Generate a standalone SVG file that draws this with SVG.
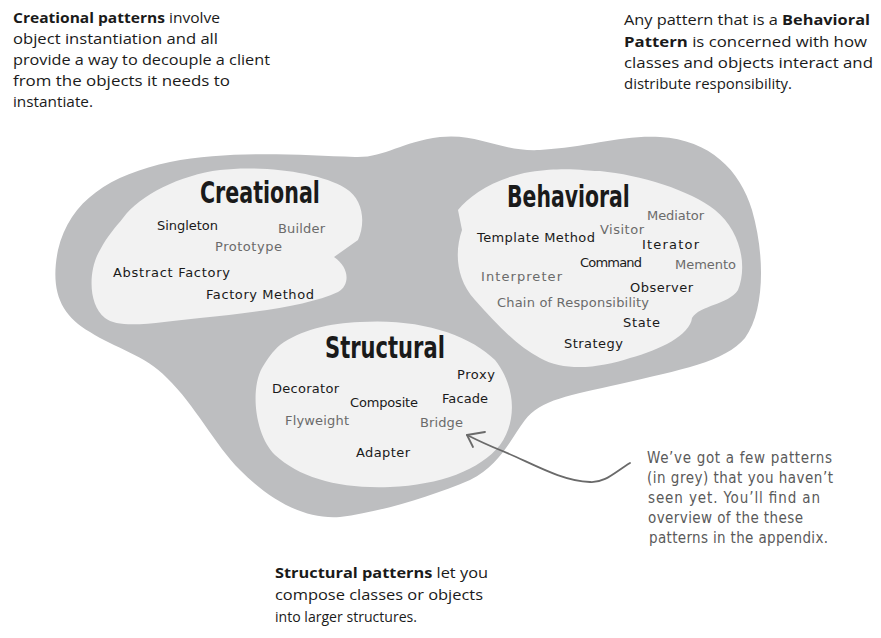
<svg xmlns="http://www.w3.org/2000/svg" width="881" height="638" viewBox="0 0 881 638">
<style>
  .body { font-family: "Open Sans", "DejaVu Sans", sans-serif; font-size: 14.5px; fill: #1a1a1a; }
  .b { font-weight: bold; }
  .head { font-family: "Liberation Sans Narrow", "DejaVu Sans Condensed", sans-serif; font-size: 31px; font-weight: bold; fill: #1a1a1a; }
  .item { font-family: "DejaVu Sans", "Open Sans", sans-serif; font-size: 13px; fill: #1a1a1a; }
  .grey { fill: #6b6b6b; }
  .note { font-family: "DejaVu Sans Condensed", "Liberation Sans Narrow", sans-serif; font-size: 15px; fill: #5a5a5a; }
  .outer { fill: #bdbec0; }
  .inner { fill: #f2f2f2; }
  .conn { fill: none; stroke: #6a6a6a; stroke-width: 1.8; stroke-linecap: round; stroke-linejoin: round; }
</style>

<g id="outer-blob">
  <path class="outer" d="M 58,250 C 70,200 110,175 170,162 C 230,150 300,155 355,157 C 385,158 400,142 440,137 C 480,133 500,152 540,150 C 590,147 620,135 660,137 C 710,140 740,170 752,210 C 765,255 765,310 745,338 C 725,362 680,370 620,384 C 570,395 540,400 525,420 C 510,440 500,465 470,480 C 430,497 380,512 340,517 C 300,520 265,495 240,470 C 215,445 195,405 167,378 C 145,355 115,348 90,332 C 60,315 50,290 58,250 Z"/>
</g>

<g id="creational">
  <path class="inner" d="M 123,218 C 140,195 180,175 220,170 C 260,165 320,172 345,188 C 365,200 365,225 358,240 L 334,257 C 350,268 350,285 338,292 C 310,305 260,312 200,318 C 160,322 120,330 105,318 C 88,305 88,270 100,250 C 108,235 115,228 123,218 Z"/>
  <text class="head" transform="translate(200,203) scale(0.74,1)" x="0" y="0" textLength="162" lengthAdjust="spacingAndGlyphs">Creational</text>
  <text class="item" x="157" y="230" textLength="61">Singleton</text>
  <text class="item grey" x="278" y="233" textLength="47">Builder</text>
  <text class="item grey" x="215" y="251" textLength="67">Prototype</text>
  <text class="item" x="113" y="277" textLength="117">Abstract Factory</text>
  <text class="item" x="206" y="299" textLength="108">Factory Method</text>
</g>

<g id="behavioral">
  <path class="inner" d="M 458,210 C 470,195 495,178 530,172 C 570,166 590,172 600,171 C 640,175 690,190 715,210 C 740,230 748,265 738,290 C 728,305 700,305 692,318 C 690,335 660,350 630,358 C 600,368 565,372 540,358 C 515,345 495,322 475,300 C 455,278 455,250 462,230 L 458,210 Z"/>
  <text class="head" transform="translate(507,207) scale(0.74,1)" x="0" y="0" textLength="166" lengthAdjust="spacingAndGlyphs">Behavioral</text>
  <text class="item grey" x="647" y="220" textLength="57">Mediator</text>
  <text class="item grey" x="600" y="234" textLength="44">Visitor</text>
  <text class="item" x="477" y="242" textLength="118">Template Method</text>
  <text class="item" x="642" y="249" textLength="57">Iterator</text>
  <text class="item" x="580" y="267" textLength="62">Command</text>
  <text class="item grey" x="675" y="269" textLength="61">Memento</text>
  <text class="item grey" x="481" y="281" textLength="81">Interpreter</text>
  <text class="item" x="630" y="292" textLength="63">Observer</text>
  <text class="item grey" x="497" y="307" textLength="152">Chain of Responsibility</text>
  <text class="item" x="623" y="327" textLength="37">State</text>
  <text class="item" x="564" y="348" textLength="59">Strategy</text>
</g>

<g id="structural">
  <path class="inner" d="M 280,345 C 300,330 330,323 360,322 C 420,318 470,335 495,360 C 515,385 518,420 500,445 C 480,470 440,485 390,487 C 340,489 300,478 275,455 C 255,435 250,390 262,368 C 268,358 272,352 280,345 Z"/>
  <text class="head" transform="translate(325,358) scale(0.74,1)" x="0" y="0" textLength="162" lengthAdjust="spacingAndGlyphs">Structural</text>
  <text class="item" x="457" y="379" textLength="38">Proxy</text>
  <text class="item" x="272" y="393" textLength="67">Decorator</text>
  <text class="item" x="442" y="403" textLength="46">Facade</text>
  <text class="item" x="350" y="407" textLength="68">Composite</text>
  <text class="item grey" x="285" y="425" textLength="64">Flyweight</text>
  <text class="item grey" x="420" y="427" textLength="43">Bridge</text>
  <text class="item" x="356" y="457" textLength="54">Adapter</text>
</g>

<g id="caption-creational">
  <text class="body" x="13" y="23" textLength="207" lengthAdjust="spacingAndGlyphs"><tspan class="b">Creational patterns</tspan> involve</text>
  <text class="body" x="13" y="44" textLength="205" lengthAdjust="spacingAndGlyphs">object instantiation and all</text>
  <text class="body" x="13" y="65" textLength="257" lengthAdjust="spacingAndGlyphs">provide a way to decouple a client</text>
  <text class="body" x="13" y="86" textLength="217" lengthAdjust="spacingAndGlyphs">from the objects it needs to</text>
  <text class="body" x="13" y="107" textLength="80" lengthAdjust="spacingAndGlyphs">instantiate.</text>
</g>

<g id="caption-behavioral">
  <text class="body" x="624" y="25" textLength="246" lengthAdjust="spacingAndGlyphs">Any pattern that is a <tspan class="b">Behavioral</tspan></text>
  <text class="body" x="624" y="47" textLength="243" lengthAdjust="spacingAndGlyphs"><tspan class="b">Pattern</tspan> is concerned with how</text>
  <text class="body" x="624" y="68" textLength="249" lengthAdjust="spacingAndGlyphs">classes and objects interact and</text>
  <text class="body" x="624" y="89" textLength="168" lengthAdjust="spacingAndGlyphs">distribute responsibility.</text>
</g>

<g id="caption-structural">
  <text class="body" x="275" y="578" textLength="213" lengthAdjust="spacingAndGlyphs"><tspan class="b">Structural patterns</tspan> let you</text>
  <text class="body" x="275" y="600" textLength="208" lengthAdjust="spacingAndGlyphs">compose classes or objects</text>
  <text class="body" x="275" y="622" textLength="142" lengthAdjust="spacingAndGlyphs">into larger structures.</text>
</g>

<g id="note">
  <text class="note" x="647" y="463" textLength="185">We’ve got a few patterns</text>
  <text class="note" x="647" y="483" textLength="186">(in grey) that you haven’t</text>
  <text class="note" x="648" y="503" textLength="172">seen yet.  You’ll find an</text>
  <text class="note" x="648" y="523" textLength="155">overview of the these</text>
  <text class="note" x="649" y="543" textLength="179">patterns in the appendix.</text>
</g>

<g id="connectors">
  <path class="conn" d="M 630,463 C 615,472 605,483 590,482 C 560,481 530,462 500,450 C 485,444 475,439 467,435"/>
  <path class="conn" d="M 485,432 L 467,435 L 473,447"/>
</g>
</svg>
